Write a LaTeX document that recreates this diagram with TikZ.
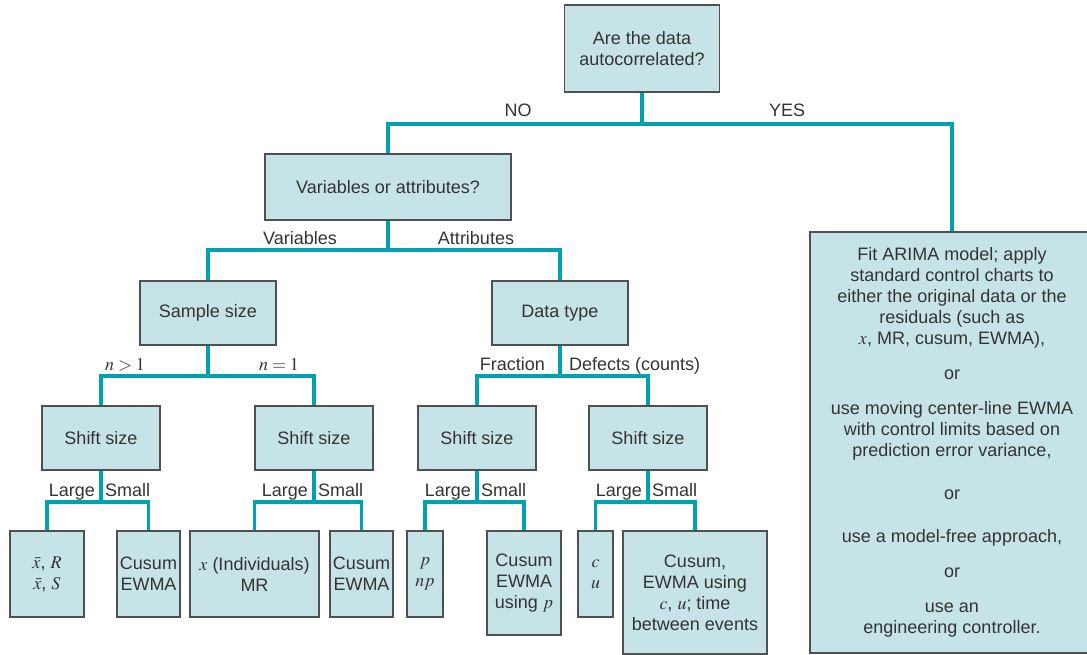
\documentclass[tikz,border=0pt]{standalone}
\usepackage{mathptmx}
\usepackage{fontspec}
\setmainfont{Liberation Sans}
\usetikzlibrary{positioning}
\definecolor{boxfill}{HTML}{C6E4E8}
\definecolor{boxline}{HTML}{505050}
\definecolor{linkteal}{HTML}{00A3AD}
\definecolor{inktext}{HTML}{333333}

\begin{document}
\begin{tikzpicture}[x=1pt, y=-1pt,
  cbox/.style={draw=boxline, line width=1.6pt, fill=boxfill, align=center, text=inktext, inner sep=0pt, font=\fontsize{18}{21}\selectfont},
  link/.style={draw=linkteal, line width=3.5pt},
  lbl/.style={font=\fontsize{18}{21}\selectfont, text=inktext, inner sep=0pt, text depth=0.25em}
]
  \useasboundingbox (0,0) rectangle (1087,655);

  % questions
  \node[cbox, minimum width=155pt, minimum height=87pt] (auto) at (642,48.5) {Are the data\\autocorrelated?};
  \node[cbox, minimum width=246pt, minimum height=66pt] (vara) at (388,187) {Variables or attributes?};
  \node[cbox, minimum width=136pt, minimum height=64pt] (ssize) at (208,313) {Sample size};
  \node[cbox, minimum width=136pt, minimum height=64pt] (dtype) at (560,313) {Data type};
  \node[cbox, minimum width=118pt, minimum height=64pt] (shifta) at (101,438) {Shift size};
  \node[cbox, minimum width=118pt, minimum height=64pt] (shiftb) at (314,438) {Shift size};
  \node[cbox, minimum width=118pt, minimum height=64pt] (shiftc) at (477,438) {Shift size};
  \node[cbox, minimum width=118pt, minimum height=64pt] (shiftd) at (648,438) {Shift size};

  % charts
  \node[cbox, minimum width=74pt, minimum height=86pt] (xbar) at (47,574) {$\bar{x}$, $R$\\$\bar{x}$, $S$};
  \node[cbox, minimum width=63pt, minimum height=86pt] (cusa) at (148.5,574) {Cusum\\EWMA};
  \node[cbox, minimum width=129pt, minimum height=86pt] (indiv) at (254.5,574) {$x$ (Individuals)\\MR};
  \node[cbox, minimum width=63pt, minimum height=86pt] (cusb) at (361.5,574) {Cusum\\EWMA};
  \node[cbox, minimum width=36pt, minimum height=86pt] (pnp) at (425,574) {$p$\\$np$};
  \node[cbox, minimum width=74pt, minimum height=104pt] (cusc) at (524,583) {Cusum\\EWMA\\using $p$};
  \node[cbox, minimum width=35pt, minimum height=86pt] (cu) at (595.5,574) {$c$\\$u$};
  \node[cbox, minimum width=144pt, minimum height=123pt] (cusd) at (695,592.5) {Cusum,\\EWMA using\\$c$, $u$; time\\between events};
  \node[cbox, minimum width=284pt, minimum height=421pt] (arima) at (952,442.5) {Fit ARIMA model; apply\\standard control charts to\\either the original data or the\\residuals (such as\\$x$, MR, cusum, EWMA),\\[14pt]or\\[14pt]use moving center-line EWMA\\with control limits based on\\prediction error variance,\\[22pt]or\\[22pt]use a model-free approach,\\[14pt]or\\[14pt]use an\\engineering controller.};

  % junctions
  \coordinate (jauto) at (642,124);
  \coordinate (jvara) at (388,250);
  \coordinate (jssize) at (208,376);
  \coordinate (jdtype) at (560,376);
  \coordinate (jshifta) at (101,502);
  \coordinate (jshiftb) at (314,502);
  \coordinate (jshiftc) at (477,502);
  \coordinate (jshiftd) at (648,502);

  \draw[link] (auto.south) -- (jauto);
  \draw[link] (vara.north) |- (jauto) -| (arima.north);
  \draw[link] (vara.south) -- (jvara);
  \draw[link] (ssize.north) |- (jvara) -| (dtype.north);
  \draw[link] (ssize.south) -- (jssize);
  \draw[link] (shifta.north) |- (jssize) -| (shiftb.north);
  \draw[link] (dtype.south) -- (jdtype);
  \draw[link] (shiftc.north) |- (jdtype) -| (shiftd.north);
  \draw[link] (shifta.south) -- (jshifta);
  \draw[link] (xbar.north) |- (jshifta) -| (cusa.north);
  \draw[link] (shiftb.south) -- (jshiftb);
  \draw[link] (indiv.north) |- (jshiftb) -| (cusb.north);
  \draw[link] (shiftc.south) -- (jshiftc);
  \draw[link] (pnp.north) |- (jshiftc) -| (cusc.north);
  \draw[link] (shiftd.south) -- (jshiftd);
  \draw[link] (cu.north) |- (jshiftd) -| (cusd.north);

  % branch labels
  \node[lbl, anchor=base] (lno) at (518,117) {NO};
  \node[lbl, anchor=base] (lyes) at (787,117) {YES};
  \node[lbl, anchor=base] (lvar) at (300,244) {Variables};
  \node[lbl, anchor=base] (latt) at (476,244) {Attributes};
  \node[lbl, anchor=base] (lnbig) at (125,370) {$n > 1$};
  \node[lbl, anchor=base] (lnone) at (279,370) {$n = 1$};
  \node[lbl, anchor=base east] (lfrac) at (545,370) {Fraction};
  \node[lbl, anchor=base west] (ldef) at (569,370) {Defects (counts)};
  \foreach \j in {shifta, shiftb, shiftc, shiftd} {
    \node[lbl, above left=2.5pt and 6pt of j\j] (large\j) {Large};
    \node[lbl, above right=2.5pt and 4pt of j\j] (small\j) {Small};
  }
\end{tikzpicture}
\end{document}
